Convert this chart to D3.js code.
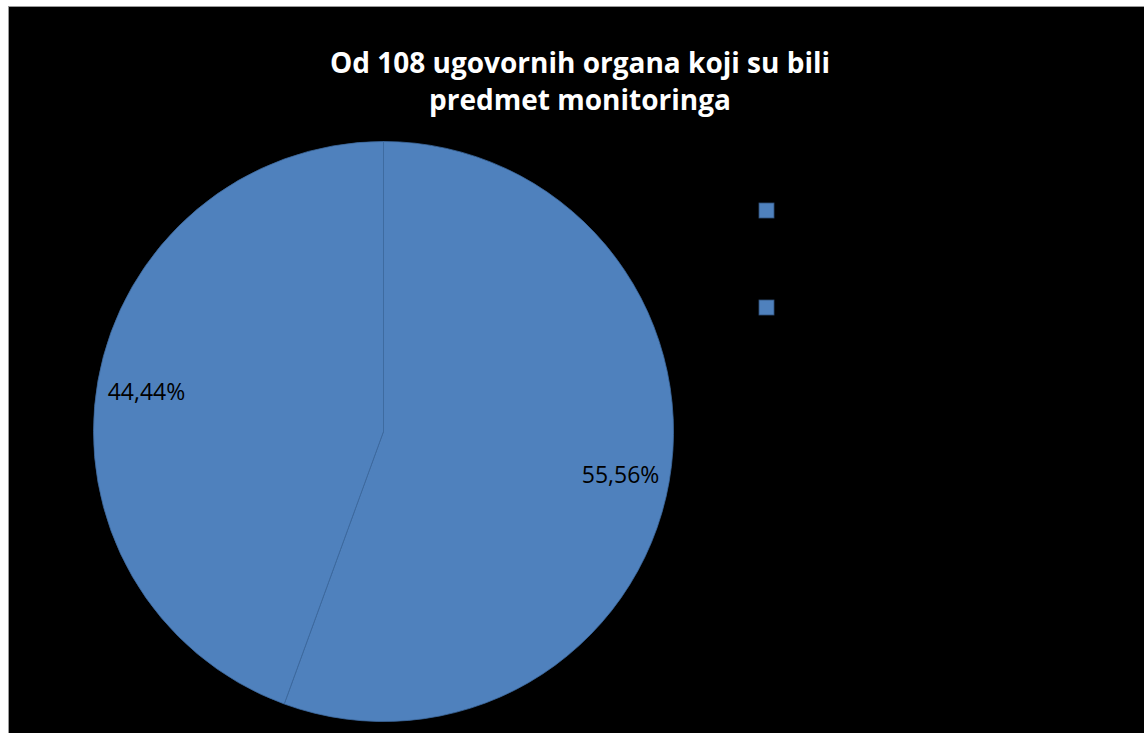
<!DOCTYPE html>
<html>
<head>
<meta charset="utf-8">
<script src="https://cdn.jsdelivr.net/npm/d3@7"></script>
<style>
  body { margin: 0; background: #fff; }
  svg { display: block; }
</style>
</head>
<body>
<div id="chart"></div>
<script>
// data
const title_lines = ["Od 108 ugovornih organa koji su bili", "predmet monitoringa"];
const categories = ["Kategorija 1", "Kategorija 2"];
const values = [55.56, 44.44];
const value_labels = ["55,56%", "44,44%"];

// cons
const w = 1144;
const h = 733;
const cx = 383.5;
const cy = 431.5;
const r = 290;
const fill = "#4f81bd";

const svg = d3.select("#chart")
    .append("svg")
    .attr("width", w)
    .attr("height", h);

// chart area (black, thin grey edge)
svg.append("rect")
    .attr("x", 8.5)
    .attr("y", 6.5)
    .attr("width", w)
    .attr("height", h)
    .attr("fill", "#000")
    .attr("stroke", "#9a9a9a")
    .attr("stroke-width", 1);

// title
svg.append("text")
    .attr("font-family", "'Open Sans', sans-serif")
    .attr("font-weight", "bold")
    .attr("font-size", 28)
    .attr("fill", "#fff")
    .attr("text-anchor", "middle")
    .selectAll("tspan")
    .data(title_lines)
    .join("tspan")
    .attr("x", 580)
    .attr("y", (d, i) => 73 + i * 37)
    .text(d => d);

// pie
const pie = d3.pie().sort(null).value(d => d);
const arc = d3.arc().innerRadius(0).outerRadius(r);
const arcs = pie(values);

const g = svg.append("g").attr("transform", `translate(${cx},${cy})`);

g.selectAll("path")
    .data(arcs)
    .join("path")
    .attr("d", arc)
    .attr("fill", fill)
    .attr("stroke", "#3d6a9e")
    .attr("stroke-width", 0.8);

// data labels, near the edge like excel "best fit"
const label_arc = d3.arc().innerRadius(r * 0.83).outerRadius(r * 0.83);
g.selectAll("text.lbl")
    .data(arcs)
    .join("text")
    .attr("class", "lbl")
    .attr("transform", d => {
        const [x, y] = label_arc.centroid(d);
        return `translate(${x},${y + 2})`;
    })
    .attr("text-anchor", "middle")
    .attr("dy", "0.35em")
    .attr("font-family", "'Open Sans', sans-serif")
    .attr("font-size", 23)
    .attr("fill", "#000")
    .text((d, i) => value_labels[i]);

// legend (labels are black on black in the original)
const legend = svg.append("g").attr("transform", "translate(759,203)");
const item = legend.selectAll("g")
    .data(categories)
    .join("g")
    .attr("transform", (d, i) => `translate(0,${i * 97})`);

item.append("rect")
    .attr("width", 15)
    .attr("height", 15)
    .attr("fill", fill)
    .attr("stroke", "#2f4f78")
    .attr("stroke-width", 0.8);
</script>
</body>
</html>
